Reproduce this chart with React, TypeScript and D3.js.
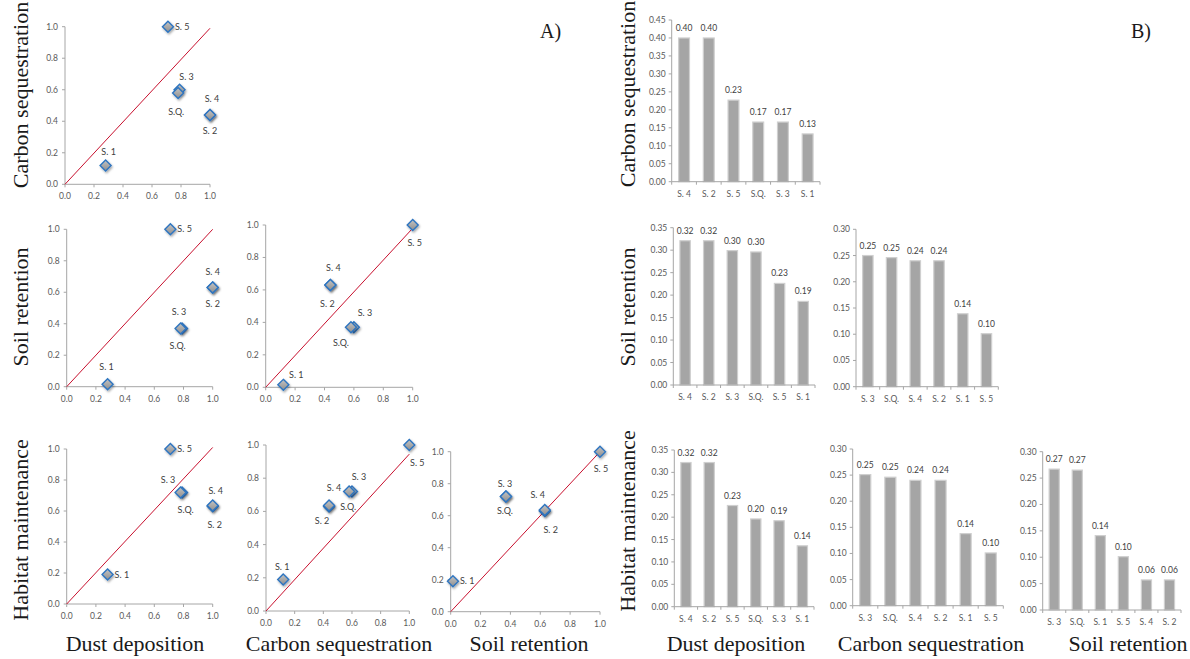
import React from "react";
import * as d3 from "d3";

// ---------- DATA ----------
const scenarios = ["S. 1", "S. 2", "S. 3", "S. 4", "S. 5", "S.Q."];
const dustDeposition = [0.28, 1.0, 0.79, 1.0, 0.71, 0.78];
const carbonSequestration = [0.12, 0.44, 0.6, 0.44, 1.0, 0.58];
const soilRetention = [0.015, 0.63, 0.37, 0.63, 1.0, 0.37];
const habitatMaintenance = [0.19, 0.63, 0.72, 0.635, 1.0, 0.72];
const scatterTicks = [0, 0.2, 0.4, 0.6, 0.8, 1.0];

const carbonVsDustCats = ["S. 4", "S. 2", "S. 5", "S.Q.", "S. 3", "S. 1"];
const carbonVsDustVals = [0.4, 0.4, 0.227, 0.166, 0.166, 0.133];
const soilVsDustCats = ["S. 4", "S. 2", "S. 3", "S.Q.", "S. 5", "S. 1"];
const soilVsDustVals = [0.321, 0.321, 0.299, 0.296, 0.226, 0.186];
const soilVsCarbonCats = ["S. 3", "S.Q.", "S. 4", "S. 2", "S. 1", "S. 5"];
const soilVsCarbonVals = [0.25, 0.246, 0.24, 0.24, 0.139, 0.101];
const habitatVsDustCats = ["S. 4", "S. 2", "S. 5", "S.Q.", "S. 3", "S. 1"];
const habitatVsDustVals = [0.322, 0.322, 0.226, 0.196, 0.192, 0.136];
const habitatVsCarbonCats = ["S. 3", "S.Q.", "S. 4", "S. 2", "S. 1", "S. 5"];
const habitatVsCarbonVals = [0.251, 0.246, 0.24, 0.24, 0.138, 0.101];
const habitatVsSoilCats = ["S. 3", "S.Q.", "S. 1", "S. 5", "S. 4", "S. 2"];
const habitatVsSoilVals = [0.267, 0.2651, 0.141, 0.101, 0.057, 0.057];

// ---------- STYLE ----------
const SANS = "Lato, 'Open Sans', sans-serif";
const SERIF = "'Liberation Serif', 'Times New Roman', serif";
const TICK_COLOR = "#595959";
const AXIS_COLOR = "#a6a6a6";

type Lab = [number, number, string?];

interface ScatterProps {
  xs: number[];
  ys: number[];
  x0: number; x1: number; y0: number; y1: number;
  labels: Lab[];
  lineEnd: [number, number];
}

function Scatter({ xs, ys, x0, x1, y0, y1, labels, lineEnd }: ScatterProps) {
  const x = d3.scaleLinear().domain([0, 1]).range([x0, x1]);
  const y = d3.scaleLinear().domain([0, 1]).range([y0, y1]);
  const s = 5.5;
  return (
    <g>
      <line x1={x0} x2={x0} y1={y0} y2={y(1)} stroke={AXIS_COLOR} strokeWidth={1} />
      <line x1={x0} x2={x(1)} y1={y0} y2={y0} stroke={AXIS_COLOR} strokeWidth={1} />
      {scatterTicks.map((t) => (
        <g key={"x" + t}>
          <line x1={x(t)} x2={x(t)} y1={y0} y2={y0 + 3} stroke={AXIS_COLOR} />
          <text x={x(t)} y={y0 + 15} fontSize={8.5} fill={TICK_COLOR} textAnchor="middle" fontFamily={SANS}>
            {d3.format(".1f")(t)}
          </text>
        </g>
      ))}
      {scatterTicks.map((t) => (
        <g key={"y" + t}>
          <line x1={x0 - 3} x2={x0} y1={y(t)} y2={y(t)} stroke={AXIS_COLOR} />
          <text x={x0 - 7} y={y(t) + 3} fontSize={8.5} fill={TICK_COLOR} textAnchor="end" fontFamily={SANS}>
            {d3.format(".1f")(t)}
          </text>
        </g>
      ))}
      <line x1={x(0)} y1={y(0)} x2={x(lineEnd[0])} y2={y(lineEnd[1])} stroke="#c8102e" strokeWidth={1} />
      {xs.map((v, i) => {
        const cx = x(v), cy = y(ys[i]);
        return (
          <path
            key={"p" + i}
            d={`M${cx},${cy - s}L${cx + s},${cy}L${cx},${cy + s}L${cx - s},${cy}Z`}
            fill="url(#diamondGrad)"
            stroke="#2e75c0"
            strokeWidth={1.4}
            filter="url(#shadow)"
          />
        );
      })}
      {xs.map((v, i) => {
        const cx = x(v), cy = y(ys[i]);
        const [dx, dy, anchor] = labels[i];
        return (
          <text key={"l" + i} x={cx + dx} y={cy + dy + 3} fontSize={9} fill="#404040"
            textAnchor={anchor || "middle"} fontFamily={SANS}>
            {scenarios[i]}
          </text>
        );
      })}
    </g>
  );
}

interface BarProps {
  cats: string[];
  vals: number[];
  left: number; right: number; bottom: number; top: number;
  max: number;
}

function BarPanel({ cats, vals, left, right, bottom, top, max }: BarProps) {
  const y = d3.scaleLinear().domain([0, max]).range([bottom, top]);
  const x = d3.scaleBand<string>().domain(cats).range([left, right]).paddingInner(0.56).paddingOuter(0.28);
  const step = (right - left) / cats.length;
  const ticks = d3.range(0, max + 1e-9, 0.05);
  const fmt = d3.format(".2f");
  return (
    <g>
      {vals.map((v, i) => (
        <rect key={"b" + i} x={x(cats[i])!} y={y(v)} width={x.bandwidth()} height={bottom - y(v)}
          fill="#a5a5a5" stroke="#cfcfcf" strokeWidth={1.2} />
      ))}
      <line x1={left} x2={left} y1={bottom} y2={top} stroke={AXIS_COLOR} />
      <line x1={left} x2={right} y1={bottom} y2={bottom} stroke={AXIS_COLOR} />
      {ticks.map((t) => (
        <g key={"t" + t}>
          <line x1={left - 3} x2={left} y1={y(t)} y2={y(t)} stroke={AXIS_COLOR} />
          <text x={left - 6} y={y(t) + 3} fontSize={8.5} textAnchor="end" fill={TICK_COLOR} fontFamily={SANS}>
            {fmt(t)}
          </text>
        </g>
      ))}
      {d3.range(cats.length + 1).map((i) => (
        <line key={"c" + i} x1={left + i * step} x2={left + i * step} y1={bottom} y2={bottom + 3} stroke={AXIS_COLOR} />
      ))}
      {cats.map((c) => (
        <text key={"cl" + c} x={x(c)! + x.bandwidth() / 2} y={bottom + 15} fontSize={8.5} textAnchor="middle"
          fill={TICK_COLOR} fontFamily={SANS}>
          {c}
        </text>
      ))}
      {vals.map((v, i) => (
        <text key={"v" + i} x={x(cats[i])! + x.bandwidth() / 2} y={y(v) - 7} fontSize={8.5} textAnchor="middle"
          fill="#404040" fontFamily={SANS}>
          {fmt(v)}
        </text>
      ))}
    </g>
  );
}

function VTitle({ x, y, text }: { x: number; y: number; text: string }) {
  return (
    <text transform={`translate(${x},${y}) rotate(-90)`} textAnchor="middle" dominantBaseline="central"
      fontSize={22} fontFamily={SERIF} fill="#1a1a1a">
      {text}
    </text>
  );
}

function HTitle({ x, y, text }: { x: number; y: number; text: string }) {
  return (
    <text x={x} y={y} textAnchor="middle" fontSize={22} fontFamily={SERIF} fill="#1a1a1a">
      {text}
    </text>
  );
}

export default function App() {
  return (
    <svg width={1190} height={659} style={{ position: "absolute", left: 0, top: 0, background: "#fff" }}>
      <defs>
        <linearGradient id="diamondGrad" x1="0" y1="0" x2="0" y2="1">
          <stop offset="0" stopColor="#c4c4c4" />
          <stop offset="1" stopColor="#8e8e8e" />
        </linearGradient>
        <filter id="shadow" x="-50%" y="-50%" width="200%" height="200%">
          <feDropShadow dx="1" dy="1.5" stdDeviation="1" floodColor="#000" floodOpacity="0.35" />
        </filter>
      </defs>

      {/* A) scatter plots */}
      <Scatter xs={dustDeposition} ys={carbonSequestration} x0={65} x1={210} y0={184.3} y1={26.7}
        lineEnd={[1, 0.99]}
        labels={[[3, -13], [0, 16], [7, -13], [2, -16], [7, 0, "start"], [-2, 19]]} />
      <Scatter xs={dustDeposition} ys={soilRetention} x0={66.7} x1={212.7} y0={386.7} y1={229.3}
        lineEnd={[1, 1]}
        labels={[[-1, -17], [0, 16], [-3, -16], [0, -16], [7, 0, "start"], [-3, 18]]} />
      <Scatter xs={carbonSequestration} ys={soilRetention} x0={265.7} x1={412.7} y0={387.3} y1={225}
        lineEnd={[0.99, 0.97]}
        labels={[[13, -10], [-3, 19], [11, -14], [3, -17], [2, 18], [-10, 16]]} />
      <Scatter xs={dustDeposition} ys={habitatMaintenance} x0={66.7} x1={212.7} y0={604} y1={449}
        lineEnd={[1, 1.01]}
        labels={[[7, 0, "start"], [2, 19], [-14, -12], [3, -15], [7, 0, "start"], [5, 18]]} />
      <Scatter xs={carbonSequestration} ys={habitatMaintenance} x0={266} x1={409.3} y0={611} y1={445}
        lineEnd={[1, 0.945]}
        labels={[[-1, -12], [-7, 15], [7, -14], [5, -18], [8, 18], [-1, 16]]} />
      <Scatter xs={soilRetention} ys={habitatMaintenance} x0={450.7} x1={600} y0={611.7} y1={451.7}
        lineEnd={[1, 1]}
        labels={[[7, 0, "start"], [6, 19], [-1, -13], [-7, -15], [1, 17], [-1, 14]]} />

      {/* B) bar charts */}
      <BarPanel cats={carbonVsDustCats} vals={carbonVsDustVals} left={671.7} right={820} bottom={181.7} top={20} max={0.45} />
      <BarPanel cats={soilVsDustCats} vals={soilVsDustVals} left={673.3} right={815} bottom={385} top={227.7} max={0.35} />
      <BarPanel cats={soilVsCarbonCats} vals={soilVsCarbonVals} left={856} right={998.3} bottom={386.7} top={229.3} max={0.3} />
      <BarPanel cats={habitatVsDustCats} vals={habitatVsDustVals} left={674.3} right={814} bottom={606.7} top={450} max={0.35} />
      <BarPanel cats={habitatVsCarbonCats} vals={habitatVsCarbonVals} left={852.7} right={1003.3} bottom={605.7} top={449} max={0.3} />
      <BarPanel cats={habitatVsSoilCats} vals={habitatVsSoilVals} left={1042.7} right={1181} bottom={610} top={451.7} max={0.3} />

      {/* Titles */}
      <VTitle x={20} y={95} text="Carbon sequestration" />
      <VTitle x={20} y={307} text="Soil retention" />
      <VTitle x={20} y={530} text="Habitat maintenance" />
      <VTitle x={627} y={94} text="Carbon sequestration" />
      <VTitle x={627} y={307} text="Soil retention" />
      <VTitle x={627} y={521} text="Habitat maintenance" />

      <HTitle x={135} y={651} text="Dust deposition" />
      <HTitle x={339} y={651} text="Carbon sequestration" />
      <HTitle x={529} y={651} text="Soil retention" />
      <HTitle x={736} y={651} text="Dust deposition" />
      <HTitle x={931} y={651} text="Carbon sequestration" />
      <HTitle x={1128} y={651} text="Soil retention" />

      <text x={540} y={38} fontSize={20} fontFamily={SERIF} fill="#1a1a1a">A)</text>
      <text x={1131} y={38} fontSize={20} fontFamily={SERIF} fill="#1a1a1a">B)</text>
    </svg>
  );
}
